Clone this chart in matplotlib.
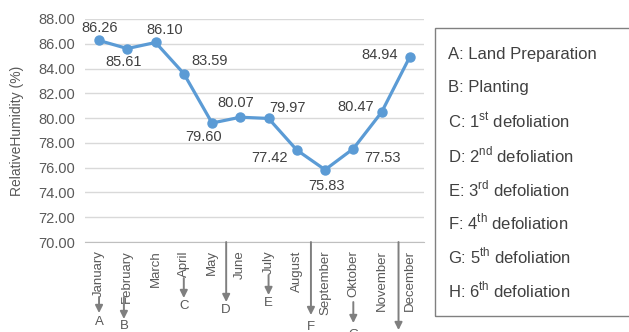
"""Monthly relative humidity with crop stage markers."""

import matplotlib.pyplot as plt
from matplotlib.patches import Rectangle
from matplotlib.transforms import blended_transform_factory

plt.rcParams["font.family"] = ["Liberation Sans", "DejaVu Sans"]
plt.rcParams["mathtext.fontset"] = "custom"
plt.rcParams["mathtext.rm"] = "Liberation Sans"

months = ["January", "February", "March", "April", "May", "June", "July",
          "August", "September", "Oktober", "November", "December"]
humidity = [86.26, 85.61, 86.10, 83.59, 79.60, 80.07, 79.97,
            77.42, 75.83, 77.53, 80.47, 84.94]

# crop stage letter and where (in month index) it happens
stage_letters = ["A", "B", "C", "D", "E", "F", "G", "H"]
stage_month = [0, 0.88, 3, 4.5, 6, 7.5, 9, 10.6]
stage_text = [
    "A: Land Preparation",
    "B: Planting",
    r"C: 1$^{\mathrm{st}}$ defoliation",
    r"D: 2$^{\mathrm{nd}}$ defoliation",
    r"E: 3$^{\mathrm{rd}}$ defoliation",
    r"F: 4$^{\mathrm{th}}$ defoliation",
    r"G: 5$^{\mathrm{th}}$ defoliation",
    r"H: 6$^{\mathrm{th}}$ defoliation",
]

LINE = "#5b9bd5"
TEXT = "#595959"
ARROW = "#7f7f7f"

fig = plt.figure(figsize=(6.29, 3.32), dpi=100)
ax = fig.add_axes([0.135, 0.271, 0.539, 0.672])

x = list(range(len(months)))
ax.plot(x, humidity, color=LINE, linewidth=2.3, marker="o", markersize=6.5, zorder=3)

# label offsets in pixels (dx, dy)
label_offsets = [(1, 12), (-4, -13), (9, 12), (26, 13), (-8, -14), (-5, 14),
                 (19, 10), (-27, -8), (1, -16), (29, -9), (-26, 5), (-30, 2)]
for xi, val, (dx, dy) in zip(x, humidity, label_offsets):
    ax.annotate(f"{val:.2f}", (xi, val), xytext=(dx, dy), textcoords="offset pixels",
                ha="center", va="center", fontsize=10.5, color="#404040")

ax.set_xlim(-0.5, len(months) - 0.5)
ax.set_ylim(70, 88)
ax.set_yticks(range(70, 89, 2))
ax.set_yticklabels([f"{v:.2f}" for v in range(70, 89, 2)])
ax.set_xticks(x)
ax.set_xticklabels(months, rotation=90, va="top", ha="center")
ax.tick_params(axis="y", length=0, labelsize=10.5, labelcolor=TEXT, pad=7)
ax.tick_params(axis="x", length=0, labelsize=9.5, labelcolor=TEXT, pad=6)
ax.grid(axis="y", color="#d9d9d9", linewidth=1)
ax.set_axisbelow(True)
for side in ["top", "right", "left"]:
    ax.spines[side].set_visible(False)
ax.spines["bottom"].set_color("#bfbfbf")
ax.set_ylabel("RelativeHumidity (%)", fontsize=10, color=TEXT, labelpad=10)

# stage arrows below the month axis: (start, end, label) in pixels below axis
arrow_spans = [(55, 71, 80), (55, 77, 84), (36, 56, 64), (0, 60, 68),
               (33, 53, 61), (0, 73, 85), (60, 81, 93), (0, 88, 99)]
trans = blended_transform_factory(ax.transData, ax.transAxes)
ax_h = 223.0
for letter, xm, (y0, y1, yl) in zip(stage_letters, stage_month, arrow_spans):
    ax.annotate("", xy=(xm, -y1 / ax_h), xytext=(xm, -y0 / ax_h),
                xycoords=trans, textcoords=trans, annotation_clip=False,
                arrowprops=dict(arrowstyle="-|>", color=ARROW, lw=1.4,
                                mutation_scale=11, shrinkA=0, shrinkB=0))
    ax.text(xm, -yl / ax_h, letter, transform=trans, ha="center", va="center",
            fontsize=9.5, color=TEXT, clip_on=False)

# legend box for the stages
fig.patches.append(Rectangle((435 / 629, 1 - 316 / 332), 0.33, 288 / 332,
                             transform=fig.transFigure, fill=False,
                             edgecolor="#808080", linewidth=1))
for i, txt in enumerate(stage_text):
    fig.text(448 / 629, 1 - (54 + i * 33.7) / 332, txt, ha="left", va="center",
             fontsize=12, color="#404040")

fig.savefig("out.png", dpi=100)
